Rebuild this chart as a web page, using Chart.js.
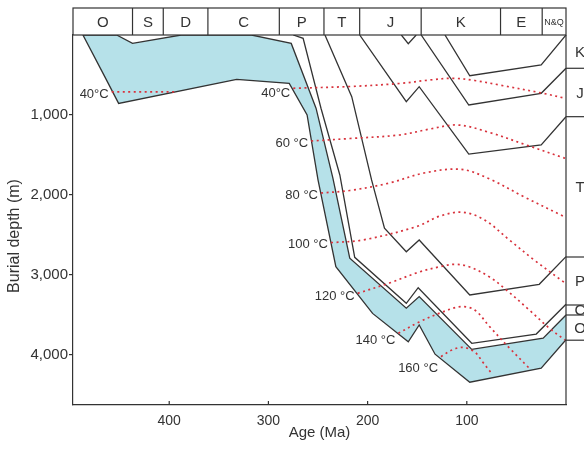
<!DOCTYPE html>
<html>
<head>
<meta charset="utf-8">
<script src="https://cdn.jsdelivr.net/npm/chart.js@4.4.1/dist/chart.umd.min.js"></script>
<style>
  html, body { margin: 0; padding: 0; background: #fff; }
  canvas { display: block; }
</style>
</head>
<body>
<canvas id="chart" width="584" height="450"></canvas>
<script>
// periods in the top strip, boundary ages in Ma (oldest first)
const periodNames = ["O", "S", "D", "C", "P", "T", "J", "K", "E", "N&Q"];
const periodBounds = [497, 437, 406, 361, 289, 244, 208, 146, 66, 24, 0];

// present day strata column on the right, boundary depths in m
const strataNames = ["K", "J", "T", "P", "C", "O"];
const strataBounds = [0, 416, 1021, 2775, 3375, 3500, 3815];

// burial curves (age Ma / depth m)
const oBaseAge = [487, 465, 451, 332, 279, 261, 250, 232, 195, 159, 148, 132, 97, 25, 0];
const oBaseDepth = [0, 520, 855, 555, 605, 1000, 1810, 2895, 3480, 3835, 3625, 3990, 4340, 4165, 3810];
const oTopAge = [487, 453, 437, 388, 317, 277, 252, 235, 218, 161, 148, 95, 23, 0];
const oTopDepth = [0, 0, 105, 0, 0, 105, 915, 1790, 2790, 3415, 3270, 3930, 3790, 3500];
const pBaseAge = [275, 265, 247, 228, 213, 161, 149, 95, 30, 0];
const pBaseDepth = [0, 41, 916, 1750, 2779, 3354, 3159, 3854, 3738, 3366];
const tBaseAge = [243, 216, 196, 183, 161, 148, 97, 27, 0];
const tBaseDepth = [0, 771, 1812, 2416, 2709, 2562, 3250, 3116, 2771];
const jBaseAge = [208, 161, 148, 98, 25, 0];
const jBaseDepth = [0, 834, 646, 1488, 1375, 1021];
const jMidAge = [166, 159, 151];
const jMidDepth = [0, 109, 0];
const kBaseAge = [146, 98, 25, 0];
const kBaseDepth = [0, 875, 729, 416];
const kMidAge = [122, 97, 25, 0];
const kMidDepth = [0, 509, 375, 0];

// isotherms
const isoNames = ["40°C", "40°C", "60 °C", "80 °C", "100 °C", "120 °C", "140 °C", "160 °C"];
const isoAges = [
  [458, 393],
  [275, 218, 168, 137, 114, 92, 67, 23, 1],
  [257, 218, 168, 137, 109, 77, 40, 1],
  [247, 218, 178, 143, 106, 77, 42, 1],
  [237, 205, 151, 127, 104, 82, 57, 32, 1],
  [210, 178, 148, 127, 112, 97, 77, 60, 37, 17, 1],
  [169, 148, 127, 106, 92, 77, 57, 37],
  [126, 115, 104, 92, 84, 75]
];
const isoDepths = [
  [710, 710],
  [666, 644, 606, 562, 541, 569, 625, 729, 791],
  [1325, 1294, 1250, 1175, 1125, 1219, 1375, 1541],
  [1975, 1944, 1850, 1725, 1679, 1800, 2025, 2275],
  [2596, 2563, 2396, 2263, 2216, 2313, 2563, 2813, 3100],
  [3229, 3100, 2963, 2896, 2866, 2900, 3025, 3188, 3438, 3663, 3813],
  [3729, 3588, 3475, 3396, 3438, 3646, 3913, 4166],
  [4021, 3938, 3904, 3963, 4088, 4229]
];

const xTicks = [100, 200, 300, 400];
const yTicks = [1000, 2000, 3000, 4000];

const FONT = "'Liberation Sans', Arial, sans-serif";
const INK = "#333";

function pts(ages, depths) {
  return ages.map((a, i) => ({ x: a, y: depths[i] }));
}

function blackLine(ages, depths) {
  return {
    data: pts(ages, depths),
    borderColor: INK,
    borderWidth: 1.3,
    pointRadius: 0,
    fill: false,
    tension: 0,
    order: 2
  };
}

const datasets = [];
// Ordovician band (blue)
datasets.push({
  data: pts(oBaseAge, oBaseDepth).concat(pts(oTopAge, oTopDepth).reverse()),
  borderWidth: 0,
  pointRadius: 0,
  backgroundColor: "#b6e1e9",
  fill: "shape",
  order: 3
});
datasets.push(blackLine(oBaseAge, oBaseDepth));
datasets.push(blackLine(oTopAge, oTopDepth));
datasets.push(blackLine(pBaseAge, pBaseDepth));
datasets.push(blackLine(tBaseAge, tBaseDepth));
datasets.push(blackLine(jBaseAge, jBaseDepth));
datasets.push(blackLine(jMidAge, jMidDepth));
datasets.push(blackLine(kBaseAge, kBaseDepth));
datasets.push(blackLine(kMidAge, kMidDepth));
isoAges.forEach((ages, i) => {
  datasets.push({
    data: pts(ages, isoDepths[i]),
    borderColor: "#d8323c",
    borderWidth: 1.7,
    borderDash: [2, 3.5],
    pointRadius: 0,
    fill: false,
    tension: 0.35,
    order: 1,
    isoIndex: i
  });
});

// label offsets for the isotherm names (px)
const isoLabelDy = [3, 5, 2, 2, 2, 3, 7, 12];

const frame = {
  id: "frame",
  afterDraw(chart) {
    const { ctx, chartArea: a, scales } = chart;
    const x = scales.x, y = scales.y;
    ctx.save();
    ctx.strokeStyle = INK;
    ctx.fillStyle = INK;
    ctx.lineWidth = 1.2;

    // top period strip
    const top = 8;
    ctx.strokeRect(a.left, top, a.right - a.left, a.top - top);
    ctx.textAlign = "center";
    ctx.textBaseline = "middle";
    periodNames.forEach((name, i) => {
      const x0 = x.getPixelForValue(periodBounds[i]);
      const x1 = x.getPixelForValue(periodBounds[i + 1]);
      if (i > 0) {
        ctx.beginPath();
        ctx.moveTo(x0, top);
        ctx.lineTo(x0, a.top);
        ctx.stroke();
      }
      ctx.font = name.length > 1 ? "9px " + FONT : "15px " + FONT;
      ctx.fillText(name, (x0 + x1) / 2, (top + a.top) / 2 + 1);
    });

    // right border + strata column
    ctx.beginPath();
    ctx.moveTo(a.right, a.top);
    ctx.lineTo(a.right, a.bottom);
    ctx.stroke();
    ctx.font = "15px " + FONT;
    strataNames.forEach((name, i) => {
      const y0 = y.getPixelForValue(strataBounds[i]);
      const y1 = y.getPixelForValue(strataBounds[i + 1]);
      ctx.beginPath();
      ctx.moveTo(a.right, y1);
      ctx.lineTo(chart.width, y1);
      ctx.stroke();
      ctx.fillText(name, a.right + 14, (y0 + y1) / 2 + 1);
    });

    // x tick marks pointing inward
    xTicks.forEach((v) => {
      const px = x.getPixelForValue(v);
      ctx.beginPath();
      ctx.moveTo(px, a.bottom);
      ctx.lineTo(px, a.bottom - 4);
      ctx.stroke();
    });

    // y axis title
    ctx.save();
    ctx.translate(15, 236);
    ctx.rotate(-Math.PI / 2);
    ctx.font = "16px " + FONT;
    ctx.fillText("Burial depth (m)", 0, 0);
    ctx.restore();

    // isotherm names
    ctx.font = "13px " + FONT;
    ctx.textAlign = "right";
    chart.data.datasets.forEach((ds) => {
      if (ds.isoIndex === undefined) return;
      const p = ds.data[0];
      const px = x.getPixelForValue(p.x) - 3;
      const py = y.getPixelForValue(p.y) + isoLabelDy[ds.isoIndex];
      ctx.fillText(isoNames[ds.isoIndex], px, py);
    });
    ctx.restore();
  }
};

new Chart(document.getElementById("chart"), {
  type: "line",
  data: { datasets },
  options: {
    responsive: false,
    animation: false,
    events: [],
    layout: { padding: { top: 35, right: 18, left: 0, bottom: 0 } },
    plugins: { legend: { display: false }, tooltip: { enabled: false } },
    scales: {
      x: {
        type: "linear",
        reverse: true,
        min: 0,
        max: 497,
        afterFit: (s) => { s.height = 45; },
        afterBuildTicks: (s) => { s.ticks = xTicks.map((v) => ({ value: v })); },
        grid: { display: false },
        border: { color: INK, width: 1.2 },
        ticks: { color: INK, font: { size: 14, family: FONT }, padding: 0, maxRotation: 0 },
        title: { display: true, text: "Age (Ma)", color: INK, font: { size: 15, family: FONT }, padding: { top: 0, bottom: 8 } }
      },
      y: {
        type: "linear",
        reverse: true,
        min: 0,
        max: 4625,
        afterFit: (s) => { s.width = 73; },
        afterBuildTicks: (s) => { s.ticks = yTicks.map((v) => ({ value: v })); },
        grid: { display: true, drawOnChartArea: false, drawTicks: true, tickLength: 4, color: INK, lineWidth: 1.2 },
        border: { color: INK, width: 1.2 },
        ticks: {
          color: INK,
          font: { size: 15, family: FONT },
          padding: 1,
          callback: (v) => v.toLocaleString("en-US")
        },
        title: { display: false }
      }
    }
  },
  plugins: [frame]
});
</script>
</body>
</html>
